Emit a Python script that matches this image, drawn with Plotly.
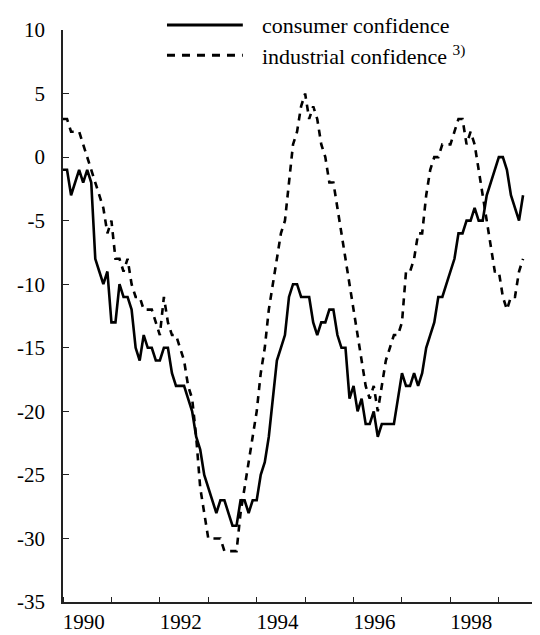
import plotly.graph_objects as go

# Monthly data, January 1990 onwards
start_year = 1990
consumer = [
    -1, -1, -3, -2, -1, -2, -1, -2, -8, -9,
    -10, -9, -13, -13, -10, -11, -11, -12, -15, -16,
    -14, -15, -15, -16, -16, -15, -15, -17, -18, -18,
    -18, -19, -20, -22, -23, -25, -26, -27, -28, -27,
    -27, -28, -29, -29, -27, -27, -28, -27, -27, -25,
    -24, -22, -19, -16, -15, -14, -11, -10, -10, -11,
    -11, -11, -13, -14, -13, -13, -12, -12, -14, -15,
    -15, -19, -18, -20, -19, -21, -21, -20, -22, -21,
    -21, -21, -21, -19, -17, -18, -18, -17, -18, -17,
    -15, -14, -13, -11, -11, -10, -9, -8, -6, -6,
    -5, -5, -4, -5, -5, -3, -2, -1, 0, 0,
    -1, -3, -4, -5, -3,
]
industrial = [
    3, 3, 2, 2, 2, 1, 0, -1, -2, -3,
    -4, -6, -5, -8, -8, -9, -8, -10, -11, -11,
    -12, -12, -12, -13, -14, -11, -13, -14, -14, -15,
    -16, -18, -19, -22, -26, -28, -30, -30, -30, -30,
    -31, -31, -31, -31, -28, -26, -24, -22, -20, -17,
    -15, -12, -10, -8, -6, -5, -2, 1, 2, 4,
    5, 3, 4, 3, 1, 0, -2, -2, -4, -6,
    -8, -10, -12, -14, -16, -18, -19, -18, -20, -18,
    -16, -15, -14, -14, -13, -9, -9, -8, -6, -6,
    -3, -1, 0, 0, 1, 1, 1, 2, 3, 3,
    1, 2, 1, -1, -3, -5, -7, -9, -9, -11,
    -12, -11, -11, -9, -8,
]
label_years = [1990, 1992, 1994, 1996, 1998]
year_boundaries = list(range(1990, 2000))
y_ticks = [10, 5, 0, -5, -10, -15, -20, -25, -30, -35]
names = ["consumer confidence", "industrial confidence <sup>3)</sup>"]

x_c = [start_year + i / 12 for i in range(len(consumer))]
x_i = [start_year + i / 12 for i in range(len(industrial))]

FONT = "Liberation Serif, Times New Roman, Times, serif"

fig = go.Figure()
fig.add_trace(go.Scatter(x=x_c, y=consumer, mode="lines", name="consumer confidence",
                         line=dict(color="black", width=2.6), showlegend=False))
fig.add_trace(go.Scatter(x=x_i, y=industrial, mode="lines", name="industrial confidence",
                         line=dict(color="black", width=2.6, dash="7px,6px"), showlegend=False))

# legend drawn manually (long sample lines)
leg_y = [1.0087, 0.956]
for k, (yy, dash) in enumerate(zip(leg_y, ["solid", "8px,7px"])):
    fig.add_shape(type="line", xref="paper", yref="paper", x0=0.218, x1=0.377, y0=yy, y1=yy,
                  line=dict(color="black", width=3, dash=dash))
    fig.add_annotation(xref="paper", yref="paper", x=0.412, y=yy, text=names[k],
                       showarrow=False, xanchor="left", yanchor="middle",
                       font=dict(family=FONT, size=22, color="black"))

fig.update_layout(
    width=540, height=635,
    margin=dict(l=55, r=8, t=22, b=41),
    plot_bgcolor="white", paper_bgcolor="white",
    font=dict(family=FONT, size=21, color="black"),
    showlegend=False,
)
fig.update_xaxes(
    range=[1990, 1999.85], automargin=False,
    tickmode="array", tickvals=[y + 0.43 for y in label_years], ticktext=[str(y) for y in label_years],
    ticks="", showline=True, linecolor="#222", linewidth=1.5,
    showgrid=False, zeroline=False,
    minor=dict(tickvals=year_boundaries, ticks="inside", ticklen=5, tickcolor="#222", tickwidth=1, showgrid=False),
    ticklabelstandoff=0, tickfont=dict(family=FONT, size=21),
)
fig.update_yaxes(
    range=[-35, 10], automargin=False,
    tickmode="array", tickvals=y_ticks, ticktext=[str(v) for v in y_ticks],
    ticks="inside", ticklen=6, tickcolor="#222", showline=True, linecolor="#222", linewidth=1.5,
    showgrid=False, zeroline=False, ticklabelstandoff=12, tickfont=dict(family=FONT, size=21),
)

fig.write_html("out.html")
